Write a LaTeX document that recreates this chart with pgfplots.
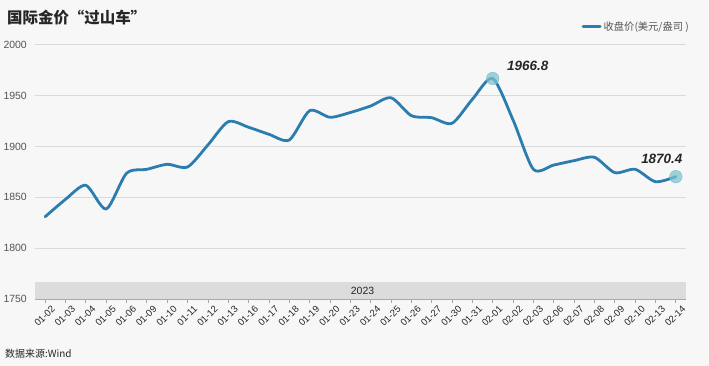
\documentclass[border=0pt]{standalone}
\usepackage{pgfplots}
\pgfplotsset{compat=1.18}
\usepackage{pgfplotstable}
\usepackage{fontspec}
\setmainfont{Liberation Sans}
\newfontfamily\cjk{Noto Sans CJK SC}
\newfontfamily\cjkfw{Noto Sans CJK SC}[RawFeature=+fwid]
\definecolor{bg}{HTML}{F7F7F7}
\definecolor{linecol}{HTML}{2C7DAF}
\definecolor{markcol}{HTML}{7FC0CC}
\definecolor{gridcol}{HTML}{DADADA}
\definecolor{bandcol}{HTML}{DCDCDC}
\definecolor{axiscol}{HTML}{A8A8A8}
\definecolor{labcol}{HTML}{555555}
\definecolor{darkcol}{HTML}{262626}
\pgfplotstableread{
x y
0 1831.0
1 1848.1
2 1861.9
3 1838.6
4 1873.7
5 1877.6
6 1882.5
7 1879.9
8 1901.5
9 1924.4
10 1918.9
11 1912.0
12 1906.4
13 1935.2
14 1928.7
15 1933.4
16 1939.8
17 1947.9
18 1930.3
19 1928.3
20 1922.8
21 1946.4
22 1966.8
23 1926.0
24 1877.6
25 1881.8
26 1886.1
27 1889.4
28 1874.3
29 1877.6
30 1865.4
31 1870.4
}\gold
\begin{document}
\begin{tikzpicture}
\useasboundingbox (0,0) rectangle (709bp,366bp);
\fill[bg] (0,0) rectangle (709bp,366bp);
\node[anchor=west, inner sep=0pt, text=darkcol, font=\cjk\bfseries\fontsize{15.5}{18}\selectfont] at (7bp,348.5bp) {国际金价{\cjkfw “}过山车{\cjkfw ”}};
\node[anchor=west, inner sep=0pt, text=darkcol, font=\cjk\fontsize{10}{12}\selectfont] at (5bp,12bp) {数据来源:Wind};
\begin{axis}[
  at={(35bp,66.8bp)}, anchor=south west,
  scale only axis, width=651bp, height=254.5bp,
  xmin=-0.5, xmax=31.5, ymin=1750, ymax=2000,
  clip=false,
  axis x line*=bottom, axis y line*=left,
  x axis line style={draw=axiscol, line width=0.8bp, -},
  y axis line style={draw=none},
  ytick={1750,1800,1850,1900,1950,2000},
  ymajorgrids, grid style={draw=gridcol, line width=0.8bp},
  y tick style={draw=none},
  xtick={0,...,31},
  xticklabels={01-02,01-03,01-04,01-05,01-06,01-09,01-10,01-11,01-12,01-13,01-16,01-17,01-18,01-19,01-20,01-23,01-24,01-25,01-26,01-27,01-30,01-31,02-01,02-02,02-03,02-06,02-07,02-08,02-09,02-10,02-13,02-14},
  x tick style={draw=axiscol, line width=0.8bp},
  tick align=outside, major tick length=4bp,
  /pgf/number format/assume math mode=true,
  /pgf/number format/1000 sep={},
  y tick label style={inner sep=0pt, xshift=-4bp, text=labcol, font=\fontsize{10.5}{12}\selectfont},
  x tick label style={rotate=45, anchor=north east, inner sep=0pt, xshift=3bp, yshift=-5bp, text=darkcol, font=\fontsize{9.6}{11}\selectfont},
  legend style={draw=none, fill=none, at={(axis description cs:1,1)}, anchor=south east, xshift=5bp, yshift=11bp, inner sep=0pt, font=\cjk\fontsize{10.3}{12}\selectfont, text=labcol, cells={anchor=west}},
  legend image code/.code={\draw[linecol, line width=3bp, line cap=round] (0bp,0bp) -- (17bp,0bp);},
]
\fill[bandcol] (axis cs:-0.5,1750.5) rectangle (axis cs:31.5,1766.6);
\node[text=darkcol, font=\fontsize{10.5}{12}\selectfont] at (axis cs:15.6,1758.5) {2023};
\addplot[linecol, line width=2.8bp, smooth, tension=0.45, line cap=round, line join=round] table[x=x,y=y] {\gold};
\addlegendentry{收盘价(美元/盎司 )}
\addplot[forget plot, only marks, color=markcol, mark=*, mark size=6.3bp, mark options={fill=markcol, draw=none, fill opacity=0.72}] coordinates {(22,1966.8) (31,1870.4)};
\node[text=darkcol, font=\bfseries\itshape\fontsize{13.5}{15}\selectfont] at (axis cs:22,1966.8) [xshift=35bp, yshift=12.7bp] {1966.8};
\node[text=darkcol, font=\bfseries\itshape\fontsize{13.5}{15}\selectfont] at (axis cs:31,1870.4) [xshift=-14bp, yshift=18bp] {1870.4};
\end{axis}
\end{tikzpicture}
\end{document}
